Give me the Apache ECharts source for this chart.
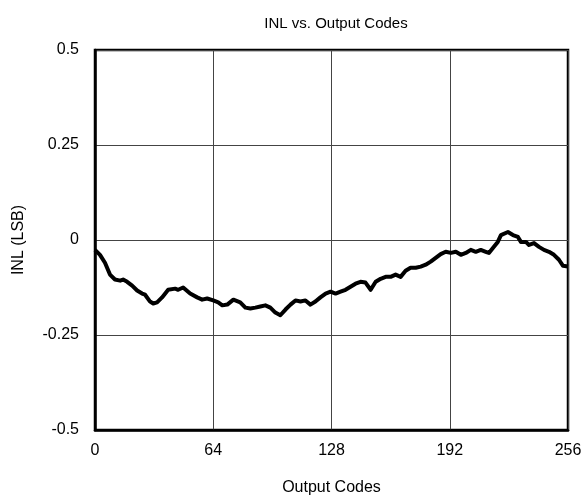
<!DOCTYPE html>
<html>
<head>
<meta charset="utf-8">
<script src="https://cdn.jsdelivr.net/npm/echarts@6/dist/echarts.min.js"></script>
<style>
  html, body { margin: 0; padding: 0; background: #fff; }
  #chart { width: 588px; height: 501px; }
</style>
</head>
<body>
<div id="chart"></div>
<script>
// INL values
const codes = [0, 2.7, 5.4, 8.1, 10.8, 13.6, 15.2, 17.4, 20.1, 22.8, 25.5, 27.1, 29.8, 31.5, 33.6, 36.3, 39.6, 43.4, 45, 47.7,
  51.5, 55.3, 58, 60.7, 64, 66.7, 68.9, 71.6, 74.9, 78.6, 81.4, 84.1, 86.8, 89.5, 92.2, 94.9, 97.6, 100.3, 103.1, 105.8,
  108.5, 111.2, 113.9, 116.6, 119.3, 122, 124.8, 127.5, 130.2, 132.9, 135.6, 138.3, 141, 143.7, 146.4, 149.2, 151.9, 154.6, 157.3, 160,
  162.7, 165.4, 168.1, 170.8, 173.6, 176.3, 179, 181.7, 184.4, 187.1, 189.8, 192.6, 195.3, 198, 200.7, 203.4, 206.1, 208.8, 211.5, 213.2,
  215.9, 218, 219.7, 223.5, 226.2, 228.9, 230.5, 233.2, 234.9, 237.6, 240.3, 243, 245.7, 248.4, 251.1, 253.3, 256];
const inl = [-0.026, -0.039, -0.060, -0.091, -0.104, -0.107, -0.104, -0.110, -0.120, -0.133, -0.141, -0.144, -0.162, -0.167, -0.164, -0.151, -0.131, -0.128, -0.131, -0.125,
  -0.141, -0.151, -0.157, -0.154, -0.159, -0.164, -0.172, -0.170, -0.157, -0.164, -0.178, -0.180, -0.178, -0.175, -0.172, -0.178, -0.191, -0.198, -0.183, -0.170,
  -0.159, -0.162, -0.159, -0.170, -0.162, -0.151, -0.141, -0.136, -0.141, -0.136, -0.131, -0.123, -0.115, -0.110, -0.112, -0.131, -0.110, -0.102, -0.097, -0.097,
  -0.091, -0.097, -0.081, -0.073, -0.073, -0.070, -0.065, -0.057, -0.047, -0.037, -0.031, -0.034, -0.031, -0.039, -0.034, -0.026, -0.031, -0.026, -0.031, -0.034,
  -0.018, -0.005, 0.013, 0.021, 0.013, 0.008, -0.005, -0.005, -0.013, -0.008, -0.018, -0.026, -0.031, -0.039, -0.052, -0.068, -0.070];

const xTicks = [0, 64, 128, 192, 256];
const yTicks = [-0.5, -0.25, 0, 0.25, 0.5];

const chart = echarts.init(document.getElementById('chart'));
const font = 'Liberation Sans, Arial, sans-serif';

chart.setOption({
  backgroundColor: '#fff',
  animation: false,
  title: {
    text: 'INL vs. Output Codes',
    left: 331, top: 11, textAlign: 'center',
    textStyle: { fontFamily: font, fontSize: 15, fontWeight: 'normal', color: '#000' }
  },
  grid: { left: 95, right: 20, top: 50, bottom: 71, show: true, borderColor: '#000', borderWidth: 2.5 },
  xAxis: {
    type: 'value', min: 0, max: 256, interval: 64,
    name: 'Output Codes', nameLocation: 'middle', nameGap: 50,
    nameTextStyle: { fontFamily: font, fontSize: 16, color: '#000' },
    axisLine: { show: true, onZero: false, lineStyle: { color: '#000', width: 2.5 } },
    axisTick: { show: false },
    axisLabel: { fontFamily: font, fontSize: 16, color: '#000', margin: 13,
      formatter: v => xTicks.includes(v) ? String(v) : '' },
    splitLine: { show: true, lineStyle: { color: '#444', width: 1 } }
  },
  yAxis: {
    type: 'value', min: -0.5, max: 0.5, interval: 0.25,
    name: 'INL (LSB)', nameLocation: 'middle', nameGap: 68,
    nameTextStyle: { fontFamily: font, fontSize: 16, color: '#000' },
    axisLine: { show: true, onZero: false, lineStyle: { color: '#000', width: 2.5 } },
    axisTick: { show: false },
    axisLabel: { fontFamily: font, fontSize: 16, color: '#000', margin: 16,
      formatter: v => yTicks.includes(v) ? String(v) : '' },
    splitLine: { show: true, lineStyle: { color: '#444', width: 1 } }
  },
  series: [{
    type: 'line',
    data: codes.map((c, i) => [c, inl[i]]),
    showSymbol: false,
    lineStyle: { color: '#000', width: 4, join: 'round' },
    silent: true
  }]
});
</script>
</body>
</html>
